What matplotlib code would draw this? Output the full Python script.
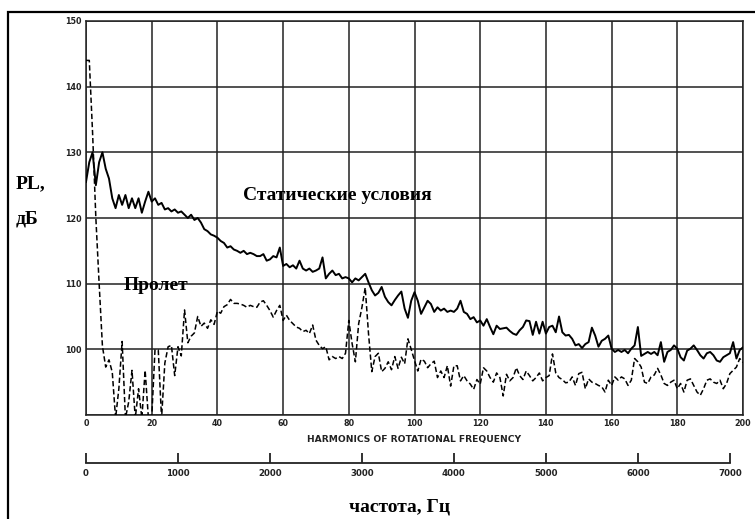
import numpy as np
import matplotlib.pyplot as plt
from matplotlib.patches import Rectangle

W, H = 755, 519

# harmonic number of the rotational frequency
harmonics = np.arange(0, 201)

# static test, dB per harmonic
static_db = [
    125.5, 128.5, 130.0, 125.0, 128.5, 130.0, 127.5, 126.0, 123.0, 121.5,
    123.5, 122.0, 123.5, 121.5, 123.0, 121.5, 123.0, 120.8, 122.5, 124.0,
    122.5, 123.0, 122.0, 122.3, 121.3, 121.5, 121.0, 121.3, 120.8, 121.0,
    120.5, 120.0, 120.5, 119.7, 120.0, 119.3, 118.3, 118.0, 117.5, 117.3,
    117.0, 116.5, 116.2, 115.5, 115.7, 115.2, 115.0, 114.7, 115.0, 114.5,
    114.7, 114.5, 114.2, 114.2, 114.5, 113.5, 113.7, 114.2, 114.0, 115.5,
    112.7, 113.0, 112.5, 112.8, 112.3, 113.5, 112.3, 112.0, 112.3, 111.8,
    112.0, 112.3, 114.0, 110.8, 111.5, 112.0, 111.3, 111.5, 110.8, 111.0,
    110.8, 110.2, 110.8, 110.5, 111.0, 111.5, 110.2, 109.0, 108.2, 108.6,
    109.5, 108.0, 107.2, 106.7, 107.5, 108.2, 108.8, 106.2, 104.8, 107.4,
    108.7, 107.4, 105.4, 106.4, 107.4, 106.9, 105.7, 106.4, 105.9, 106.2,
    105.7, 105.9, 105.7, 106.2, 107.4, 105.7, 105.4, 104.6, 104.9, 104.1,
    104.4, 103.6, 104.6, 103.4, 102.3, 103.6, 103.1, 103.2, 103.3, 102.8,
    102.4, 102.2, 102.9, 103.4, 104.4, 104.3, 102.2, 104.2, 102.4, 104.2,
    102.4, 103.4, 103.6, 102.6, 105.0, 102.6, 102.1, 102.2, 101.6, 100.6,
    100.8, 100.2, 100.8, 101.1, 103.3, 102.1, 100.4, 101.3, 101.6, 102.1,
    100.1, 99.6, 99.9, 99.6, 99.9, 99.4, 100.1, 100.6, 103.4, 99.0,
    99.3, 99.6, 99.3, 99.6, 99.1, 101.1, 98.1, 99.6, 99.9, 100.6,
    100.1, 98.8, 98.3, 99.8, 100.1, 100.6, 99.9, 99.1, 98.6, 99.4,
    99.6, 99.1, 98.3, 98.1, 98.8, 99.1, 99.4, 101.1, 98.6, 99.9,
    100.3,
]

# flyover, dB per harmonic (values under 90 run off the bottom)
flyover_db = [
    144.0, 144.0, 133.0, 120.0, 110.0, 100.5, 97.3, 98.4, 96.5, 89.5,
    94.0, 101.2, 89.5, 92.0, 96.8, 89.5, 94.0, 89.5, 96.8, 89.5,
    89.5, 99.9, 99.9, 89.5, 97.9, 100.4, 100.6, 96.0, 100.4, 99.0,
    106.0, 101.0, 102.0, 102.5, 105.0, 103.5, 104.0, 103.2, 104.5, 103.8,
    105.8, 105.5, 106.5, 106.8, 107.6, 107.0, 107.0, 106.9, 106.7, 106.4,
    106.7, 106.5, 106.4, 107.2, 107.4, 106.7, 105.9, 104.9, 105.9, 106.7,
    104.4, 105.2, 104.4, 103.9, 103.4, 103.2, 102.7, 102.9, 102.4, 103.7,
    101.4, 100.6, 100.1, 100.4, 98.4, 98.9, 98.6, 98.9, 98.6, 99.4,
    104.4, 100.9, 98.1, 103.9, 106.4, 109.4, 102.4, 96.6, 98.9, 99.4,
    96.6, 97.1, 98.1, 96.9, 98.9, 97.1, 98.8, 97.8, 101.6, 100.0,
    98.3, 96.7, 98.5, 98.2, 97.2, 97.8, 98.2, 95.7, 96.7, 95.7,
    97.5, 94.4, 97.5, 97.5, 95.2, 96.0, 95.2, 94.7, 93.9, 95.4,
    94.7, 97.2, 96.7, 95.7, 95.0, 96.4, 95.7, 92.9, 96.2, 95.2,
    95.7, 97.2, 96.0, 95.4, 96.7, 96.0, 95.2, 95.7, 96.4, 95.2,
    95.7, 96.0, 99.3, 96.4, 95.7, 95.4, 94.9, 95.0, 95.8, 94.5,
    96.3, 96.5, 94.0, 95.5, 95.0, 94.8, 94.5, 94.3, 93.5, 95.3,
    94.5, 95.8, 95.3, 95.8, 95.5, 94.5, 95.3, 98.6, 98.1, 97.3,
    95.0, 94.8, 95.8, 96.1, 97.1, 96.1, 94.8, 94.5, 95.0, 95.3,
    94.0, 94.8, 93.5, 95.3, 95.5, 94.5, 93.5, 93.0, 94.0, 95.3,
    95.5, 95.0, 94.8, 95.3, 94.0, 94.8, 96.3, 96.8, 97.3, 98.6,
    98.0,
]

x_ticks = list(range(0, 201, 20))
y_ticks = [90, 100, 110, 120, 130, 140, 150]
y_tick_labels = ["", "100", "110", "120", "130", "140", "150"]
freq_ticks = [0, 1000, 2000, 3000, 4000, 5000, 6000, 7000]
ROT_HZ = 7000 / 196  # Hz per harmonic


def fx(px):
    return px / W


def fy(py):
    return 1 - py / H


fig = plt.figure(figsize=(W / 100, H / 100), dpi=100)
fig.patch.set_facecolor("white")

# outer frame (only top and left edges fall inside the canvas)
fig.add_artist(Rectangle((fx(8), fy(560)), fx(800), fy(12) - fy(560),
                         transform=fig.transFigure, fill=False,
                         edgecolor="black", linewidth=1.6))

ax = fig.add_axes([fx(86), fy(415), fx(743 - 86), fy(21) - fy(415)])
ax.plot(harmonics, static_db, color="black", linewidth=1.4, zorder=4)
ax.plot(harmonics, flyover_db, color="black", linewidth=1.1,
        linestyle=(0, (3.5, 1.8)), zorder=3)

ax.set_xlim(0, 200)
ax.set_ylim(90, 150)
ax.set_xticks(x_ticks)
ax.set_yticks(y_ticks)
ax.set_yticklabels(y_tick_labels)
ax.grid(True, color="#222222", linewidth=1.1)
ax.set_axisbelow(True)
for s in ax.spines.values():
    s.set_color("#222222")
    s.set_linewidth(1.1)
ax.tick_params(length=0, pad=3, labelsize=5.8, colors="#222222")
for lab in ax.get_xticklabels() + ax.get_yticklabels():
    lab.set_fontweight("bold")
ax.set_xlabel("HARMONICS OF ROTATIONAL FREQUENCY", fontsize=6.6,
              fontweight="bold", color="#222222", labelpad=5)

# frequency scale in Hz under the harmonic axis
sec = ax.secondary_xaxis(-0.122, functions=(lambda h: h * ROT_HZ,
                                            lambda f: f / ROT_HZ))
sec.set_xticks(freq_ticks)
sec.spines["bottom"].set_bounds(0, 7000)
sec.spines["bottom"].set_linewidth(1.3)
sec.spines["bottom"].set_color("#222222")
sec.tick_params(direction="in", length=7, width=1.3, pad=4, labelsize=6.2,
                colors="#222222")
for lab in sec.get_xticklabels():
    lab.set_fontweight("bold")

serif = dict(family="Liberation Serif", fontweight="bold", fontsize=14,
             color="black")
fig.text(fx(16), fy(184), "PL,", ha="left", va="center", **serif)
fig.text(fx(16), fy(219), "дБ", ha="left", va="center", **serif)
fig.text(fx(243), fy(196), "Статические условия", ha="left", va="center", **serif)
fig.text(fx(124), fy(286), "Пролет", ha="left", va="center", **serif)
fig.text(fx(349), fy(507), "частота, Гц", ha="left", va="center", **serif)

fig.savefig("out.png", dpi=100)
